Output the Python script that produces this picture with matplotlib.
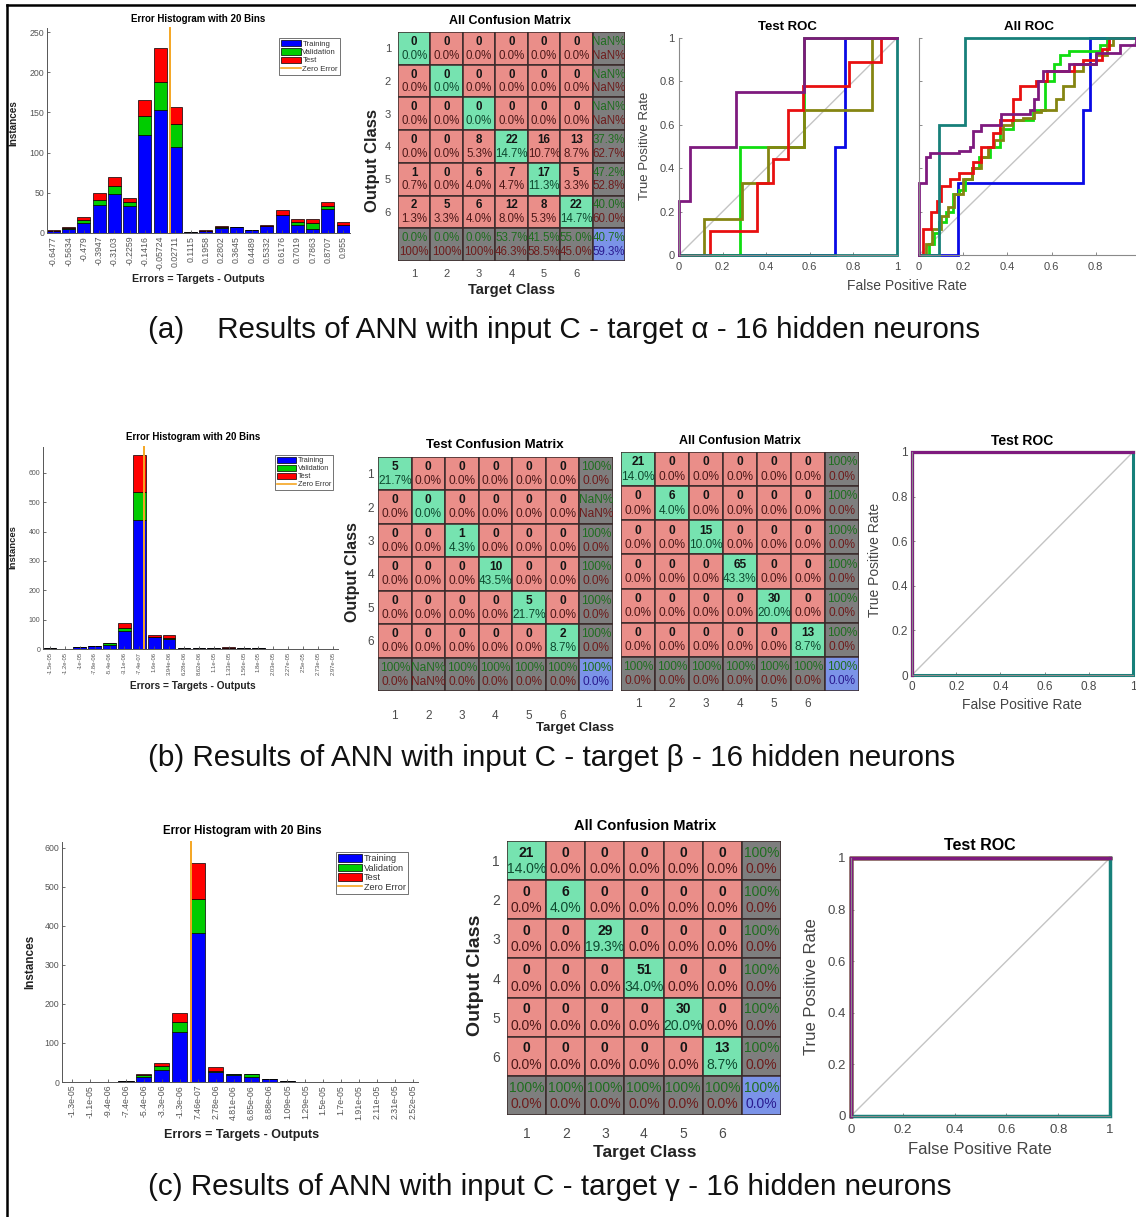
import numpy as np
import matplotlib
matplotlib.use("Agg")
import matplotlib.pyplot as plt
from matplotlib.patches import Rectangle, Patch
from matplotlib.lines import Line2D

plt.rcParams["font.family"] = ["Liberation Sans", "DejaVu Sans"]

W, H = 1136, 1217

# ---------------- data ----------------
# (a) error histogram
HIST_A_LABELS = ["-0.6477", "-0.5634", "-0.479", "-0.3947", "-0.3103", "-0.2259", "-0.1416",
                 "-0.05724", "0.02711", "0.1115", "0.1958", "0.2802", "0.3645", "0.4489",
                 "0.5332", "0.6176", "0.7019", "0.7863", "0.8707", "0.955"]
HIST_A_TRAIN = [3, 5, 12, 35, 49, 33, 122, 153, 107, 1, 3, 6, 8, 4, 9, 22, 10, 5, 30, 10]
HIST_A_VAL   = [0, 1, 4, 6, 9, 5, 24, 35, 28, 0, 0, 2, 0, 0, 0, 1, 4, 7, 4, 0]
HIST_A_TEST  = [1, 2, 4, 9, 12, 6, 19, 42, 22, 0, 1, 1, 0, 0, 1, 5, 3, 5, 5, 4]

# (b) error histogram
HIST_B_LABELS = ["-1.5e-05", "-1.2e-05", "-1e-05", "-7.8e-06", "-5.4e-06", "-3.1e-06", "-7.4e-07",
                 "1.6e-06", "3.94e-06", "6.28e-06", "8.62e-06", "1.1e-05", "1.33e-05", "1.56e-05",
                 "1.8e-05", "2.03e-05", "2.27e-05", "2.5e-05", "2.73e-05", "2.97e-05"]
HIST_B_TRAIN = [3, 1, 6, 9, 13, 60, 440, 41, 33, 4, 4, 3, 5, 4, 3, 0, 0, 0, 0, 0]
HIST_B_VAL   = [0, 0, 0, 1, 6, 12, 95, 1, 5, 0, 0, 1, 0, 0, 0, 0, 0, 0, 0, 0]
HIST_B_TEST  = [0, 0, 1, 0, 2, 17, 125, 4, 10, 0, 0, 0, 1, 0, 1, 0, 0, 0, 0, 0]

# (c) error histogram
HIST_C_LABELS = ["-1.3e-05", "-1.1e-05", "-9.4e-06", "-7.4e-06", "-5.4e-06", "-3.3e-06", "-1.3e-06",
                 "7.46e-07", "2.78e-06", "4.81e-06", "6.85e-06", "8.88e-06", "1.09e-05", "1.29e-05",
                 "1.5e-05", "1.7e-05", "1.91e-05", "2.11e-05", "2.31e-05", "2.52e-05"]
HIST_C_TRAIN = [0, 0, 0, 2, 12, 31, 128, 383, 26, 19, 13, 7, 3, 0, 0, 0, 0, 0, 0, 0]
HIST_C_VAL   = [0, 0, 0, 0, 5, 11, 25, 85, 1, 1, 7, 0, 0, 0, 0, 0, 0, 0, 0, 0]
HIST_C_TEST  = [0, 0, 0, 0, 4, 6, 23, 92, 11, 1, 1, 1, 0, 0, 0, 0, 0, 0, 0, 0]

# confusion matrices: rows = output class, cols = target class
CONF_A_ALL = [[0, 0, 0, 0, 0, 0],
              [0, 0, 0, 0, 0, 0],
              [0, 0, 0, 0, 0, 0],
              [0, 0, 8, 22, 16, 13],
              [1, 0, 6, 7, 17, 5],
              [2, 5, 6, 12, 8, 22]]
CONF_B_TEST_DIAG = [5, 0, 1, 10, 5, 2]
CONF_B_ALL_DIAG = [21, 6, 15, 65, 30, 13]
CONF_C_ALL_DIAG = [21, 6, 29, 51, 30, 13]

# ROC curves, class -> (fpr, tpr) step vertices
ROC_COLORS = {"blue": "#0a0ae6", "green": "#10dd10", "red": "#e81010",
              "teal": "#17807a", "purple": "#7e1a7e", "olive": "#858512"}
ROC_A_TEST = {
    "blue":   ([0, 0.716, 0.762, 1], [0, 0.5, 1, 1]),
    "green":  ([0, 0.28, 0.575, 1], [0, 0.5, 1, 1]),
    "olive":  ([0, 0.115, 0.29, 0.41, 0.575, 0.885, 1], [0, 0.167, 0.333, 0.5, 0.667, 1, 1]),
    "red":    ([0, 0.14, 0.356, 0.43, 0.5, 0.57, 0.78, 0.926, 1],
               [0, 0.111, 0.333, 0.444, 0.667, 0.778, 0.889, 1, 1]),
    "teal":   ([0, 1, 1], [0, 1, 1]),
    "purple": ([0, 0, 0.05, 0.26, 0.575, 1], [0, 0.25, 0.5, 0.75, 1, 1]),
}
ROC_A_ALL = {
    "teal":   ([0, 0.089, 0.207, 1], [0, 0.6, 1, 1]),
    "blue":   ([0, 0.177, 0.74, 0.773, 1], [0, 0.333, 0.667, 1, 1]),
    "olive":  ([0, 0.03, 0.06, 0.1, 0.13, 0.16, 0.2, 0.24, 0.28, 0.31, 0.34, 0.38, 0.42, 0.47,
                0.52, 0.55, 0.62, 0.65, 0.7, 0.74, 0.8, 0.85, 0.88, 1],
               [0, 0.05, 0.12, 0.18, 0.22, 0.28, 0.35, 0.4, 0.45, 0.5, 0.53, 0.6, 0.62, 0.63,
                0.66, 0.67, 0.72, 0.78, 0.85, 0.88, 0.92, 0.97, 1, 1]),
    "green":  ([0, 0.045, 0.07, 0.09, 0.12, 0.154, 0.18, 0.21, 0.24, 0.27, 0.32, 0.365, 0.425,
                0.516, 0.57, 0.61, 0.64, 0.68, 0.82, 0.85, 1],
               [0, 0.05, 0.1, 0.15, 0.2, 0.28, 0.3, 0.35, 0.4, 0.45, 0.5, 0.58, 0.62,
                0.67, 0.8, 0.88, 0.92, 0.94, 0.97, 1, 1]),
    "red":    ([0, 0.018, 0.056, 0.08, 0.1, 0.14, 0.18, 0.245, 0.28, 0.335, 0.365, 0.425, 0.455,
                0.53, 0.577, 0.7, 0.74, 0.83, 0.86, 1],
               [0, 0.12, 0.2, 0.25, 0.32, 0.35, 0.38, 0.43, 0.5, 0.56, 0.62, 0.72, 0.78,
                0.8, 0.85, 0.88, 0.9, 0.95, 1, 1]),
    "purple": ([0, 0, 0.03, 0.05, 0.18, 0.23, 0.245, 0.28, 0.37, 0.5, 0.52, 0.54, 0.56, 0.68,
                0.8, 0.91, 0.98, 1],
               [0, 0.33, 0.45, 0.47, 0.48, 0.5, 0.57, 0.6, 0.65, 0.67, 0.72, 0.8, 0.85, 0.88,
                0.93, 0.97, 1, 1]),
}
ROC_PERFECT = {
    "blue":   ([0, 0, 1], [0, 1, 1]),
    "green":  ([0, 0, 1], [0, 1, 1]),
    "red":    ([0, 0, 1], [0, 1, 1]),
    "olive":  ([0, 0, 1], [0, 1, 1]),
    "teal":   ([0, 1, 1], [0, 1, 1]),
    "purple": ([0, 0, 1], [0, 1, 1]),
}

CAPTIONS = ["(a)    Results of ANN with input C - target \u03b1 - 16 hidden neurons",
            "(b) Results of ANN with input C - target \u03b2 - 16 hidden neurons",
            "(c) Results of ANN with input C - target \u03b3 - 16 hidden neurons"]

# ---------------- styling ----------------
BAR_COLORS = ["#0000ff", "#00cc00", "#ff0000"]
ZERO_COLOR = "#f5a623"
TICK_GRAY = "#4a4a4a"
CELL_GREEN = "#76e3b0"
CELL_RED = "#ea8e89"
CELL_GRAY = "#7e7e7e"
CELL_BLUE = "#7b93e8"

fig = plt.figure(figsize=(W / 100, H / 100), dpi=100)


def rect(x0, y0, x1, y1):
    return [x0 / W, 1 - y1 / H, (x1 - x0) / W, (y1 - y0) / H]


def ftext(x, y, s, **kw):
    kw.setdefault("ha", "center")
    kw.setdefault("va", "center")
    fig.text(x / W, 1 - y / H, s, **kw)


def error_hist(box, labels, train, val, test, ymax, yticks, xlim, fs, leg_box, leg_fs,
               title_fs, title_xy, xlabel_xy, ylabel_xy, lab_fs, yfs=None):
    ax = fig.add_axes(rect(*box))
    pos = np.arange(len(labels))
    train, val, test = np.array(train), np.array(val), np.array(test)
    ax.bar(pos, train, 0.85, color=BAR_COLORS[0], edgecolor="k", lw=0.5)
    ax.bar(pos, val, 0.85, bottom=train, color=BAR_COLORS[1], edgecolor="k", lw=0.5)
    ax.bar(pos, test, 0.85, bottom=train + val, color=BAR_COLORS[2], edgecolor="k", lw=0.5)
    centers = np.array([float(s) for s in labels])
    zero = np.interp(0, centers, pos)
    ax.plot([zero, zero], [0, ymax], color=ZERO_COLOR, lw=1.4, clip_on=False)
    ax.set_xlim(*xlim)
    ax.set_ylim(0, ymax)
    ax.set_xticks(pos)
    ax.set_xticklabels(labels, rotation=90, fontsize=fs, color=TICK_GRAY)
    ax.set_yticks(yticks)
    ax.tick_params(axis="y", labelsize=yfs or fs, labelcolor=TICK_GRAY)
    ax.tick_params(direction="in", length=2, width=0.6, pad=2, colors="#555555")
    for s in ("top", "right"):
        ax.spines[s].set_visible(False)
    for s in ("left", "bottom"):
        ax.spines[s].set_color("#555555")
        ax.spines[s].set_linewidth(0.7)
    handles = [Patch(facecolor=c, edgecolor="k", lw=0.5) for c in BAR_COLORS]
    handles.append(Line2D([], [], color=ZERO_COLOR, lw=1.2))
    lx0, ly0, lx1, ly1 = leg_box
    anchor = ((lx1 - box[0]) / (box[2] - box[0]), 1 - (ly0 - box[1]) / (box[3] - box[1]))
    leg = ax.legend(handles, ["Training", "Validation", "Test", "Zero Error"],
                    loc="upper right", bbox_to_anchor=anchor, borderaxespad=0,
                    fontsize=leg_fs, frameon=True, fancybox=False, handlelength=2.6,
                    handleheight=0.9, handletextpad=0.2, labelspacing=0.05,
                    borderpad=0.25, edgecolor="#333333")
    leg.get_frame().set_linewidth(0.6)
    for t in leg.get_texts():
        t.set_color("#333333")
    ftext(*title_xy, "Error Histogram with 20 Bins", fontsize=title_fs, fontweight="bold")
    ftext(*xlabel_xy, "Errors = Targets - Outputs", fontsize=lab_fs + 0.5, fontweight="bold",
          color="#222222")
    ftext(*ylabel_xy, "Instances", fontsize=lab_fs, fontweight="bold", rotation=90,
          color="#222222")
    return ax


def pct(v):
    if np.isnan(v):
        return "NaN%"
    if abs(v - 100) < 1e-9:
        return "100%"
    return f"{v:.1f}%"


def confusion(box, counts, title, title_xy, title_fs, cell_fs, tick_fs,
              ytick=True, xpad=5, ypad=4):
    ax = fig.add_axes(rect(*box))
    m = np.array(counts, float)
    n = m.shape[0]
    total = m.sum()
    with np.errstate(invalid="ignore", divide="ignore"):
        row_ok = 100 * np.diag(m) / m.sum(axis=1)
        col_ok = 100 * np.diag(m) / m.sum(axis=0)
    acc = 100 * np.trace(m) / total
    kw = dict(ha="center", va="center", fontsize=cell_fs, clip_on=True)
    for r in range(n + 1):
        for c in range(n + 1):
            if r < n and c < n:
                fc = CELL_GREEN if r == c else CELL_RED
            elif r == n and c == n:
                fc = CELL_BLUE
            else:
                fc = CELL_GRAY
            ax.add_patch(Rectangle((c, r), 1, 1, facecolor=fc, edgecolor="#3a2a2a", lw=1.1))
            if r < n and c < n:
                ax.text(c + 0.5, r + 0.3, f"{int(m[r, c])}", fontweight="bold",
                        color="#151515", **kw)
                ax.text(c + 0.5, r + 0.72, pct(100 * m[r, c] / total),
                        color="#0f4a30" if r == c else "#4d1818", **kw)
            else:
                if r == n and c == n:
                    top, bottom, bcol = acc, 100 - acc, "#2a1a90"
                elif c == n:
                    top, bottom, bcol = row_ok[r], 100 - row_ok[r], "#6e1c1c"
                else:
                    top, bottom, bcol = col_ok[c], 100 - col_ok[c], "#6e1c1c"
                ax.text(c + 0.5, r + 0.3, pct(top), color="#1f6e1f", **kw)
                ax.text(c + 0.5, r + 0.72, pct(bottom), color=bcol, **kw)
    ax.set_xlim(0, n + 1)
    ax.set_ylim(n + 1, 0)
    ax.set_xticks(np.arange(n) + 0.5)
    ax.set_xticklabels([str(i + 1) for i in range(n)])
    ax.set_yticks(np.arange(n) + 0.5)
    ax.set_yticklabels([str(i + 1) for i in range(n)] if ytick else [])
    ax.tick_params(axis="x", length=0, labelsize=tick_fs, labelcolor=TICK_GRAY, pad=xpad)
    ax.tick_params(axis="y", length=0, labelsize=tick_fs, labelcolor=TICK_GRAY, pad=ypad)
    for s in ax.spines.values():
        s.set_visible(False)
    ftext(*title_xy, title, fontsize=title_fs, fontweight="bold")
    return ax


def roc(box, curves, order, title, title_xy, title_fs, tick_fs, lw, yticklabels=True,
        xpad=4, ypad=3, xmax_label=True):
    ax = fig.add_axes(rect(*box))
    ax.plot([0, 1], [0, 1], color="#c4c4c4", lw=1.0)
    for name in order:
        xs, ys = curves[name]
        ax.plot(xs, ys, drawstyle="steps-post", color=ROC_COLORS[name], lw=lw,
                clip_on=False, solid_joinstyle="miter")
    ax.set_xlim(0, 1)
    ax.set_ylim(0, 1)
    ticks = [0, 0.2, 0.4, 0.6, 0.8, 1]
    tl = ["0", "0.2", "0.4", "0.6", "0.8", "1"]
    ax.set_xticks(ticks)
    ax.set_xticklabels(tl if xmax_label else tl[:-1] + [""])
    ax.set_yticks(ticks)
    ax.set_yticklabels(tl if yticklabels else [])
    ax.tick_params(direction="in", length=2.5, width=0.6, colors="#777777",
                   labelsize=tick_fs, labelcolor=TICK_GRAY)
    ax.tick_params(axis="x", pad=xpad)
    ax.tick_params(axis="y", pad=ypad)
    for s in ("top", "right"):
        ax.spines[s].set_visible(False)
    for s in ("left", "bottom"):
        ax.spines[s].set_color("#8a8a8a")
        ax.spines[s].set_linewidth(0.8)
    ftext(*title_xy, title, fontsize=title_fs, fontweight="bold")
    return ax


ORDER_A = ["blue", "green", "olive", "red", "teal", "purple"]
ORDER_P = ["blue", "green", "red", "olive", "teal", "purple"]

# ---------------- row (a) ----------------
error_hist((47, 28, 350, 233), HIST_A_LABELS, HIST_A_TRAIN, HIST_A_VAL, HIST_A_TEST,
           255, [0, 50, 100, 150, 200, 250], (-0.42, 19.45), 6.3,
           (273, 38, 340, 82), 5.6, 7, (198, 19), (198, 279), (13, 123), 7.2)
confusion((398, 32, 625, 261), CONF_A_ALL, "All Confusion Matrix", (510, 21), 9, 8.3, 8,
          xpad=6, ypad=5)
ftext(372, 160, "Output Class", fontsize=12, fontweight="bold", rotation=90, color="#222222")
ftext(512, 290, "Target Class", fontsize=10.5, fontweight="bold", color="#222222")

roc((679, 38, 897, 255), ROC_A_TEST, ORDER_A, "Test ROC", (787, 27), 9.5, 8, 2.0, xpad=5)
roc((919, 38, 1140, 255), ROC_A_ALL, ORDER_A, "All ROC", (1029, 27), 9.5, 8, 2.0,
    yticklabels=False, xpad=5, xmax_label=False)
ftext(645, 146, "True Positive Rate", fontsize=9.5, rotation=90, color="#444444")
ftext(907, 286, "False Positive Rate", fontsize=10, color="#444444")

# ---------------- row (b) ----------------
error_hist((43, 447, 338, 649), HIST_B_LABELS, HIST_B_TRAIN, HIST_B_VAL, HIST_B_TEST,
           688, [0, 100, 200, 300, 400, 500, 600], (-0.47, 19.34), 4.2,
           (268, 455, 333, 498), 5.3, 7, (193, 437), (193, 686), (13, 547), 6.8, yfs=5.0)
confusion((378, 457, 613, 691), np.diag(CONF_B_TEST_DIAG), "Test Confusion Matrix",
          (495, 445), 9.5, 8.6, 8.5, xpad=14, ypad=3)
confusion((621, 452, 859, 691), np.diag(CONF_B_ALL_DIAG), "All Confusion Matrix",
          (740, 441), 9, 8.6, 8.5, ytick=False, xpad=5)
ftext(352, 572, "Output Class", fontsize=11.5, fontweight="bold", rotation=90, color="#222222")
ftext(575, 728, "Target Class", fontsize=9.5, fontweight="bold", color="#222222")

roc((912, 452, 1133, 675), ROC_PERFECT, ORDER_P, "Test ROC", (1022, 441), 10, 8.5, 2.2)
ftext(875, 560, "True Positive Rate", fontsize=10, rotation=90, color="#444444")
ftext(1022, 705, "False Positive Rate", fontsize=10, color="#444444")

# ---------------- row (c) ----------------
error_hist((62, 842, 418, 1082), HIST_C_LABELS, HIST_C_TRAIN, HIST_C_VAL, HIST_C_TEST,
           615, [0, 100, 200, 300, 400, 500, 600], (-0.56, 19.28), 6.3,
           (330, 852, 408, 906), 6.6, 8.3, (242, 831), (242, 1135), (30, 962), 8.5)
confusion((507, 841, 781, 1115), np.diag(CONF_C_ALL_DIAG), "All Confusion Matrix",
          (645, 826), 10.5, 10, 10, xpad=9, ypad=5)
ftext(475, 975, "Output Class", fontsize=14, fontweight="bold", rotation=90, color="#222222")
ftext(645, 1152, "Target Class", fontsize=12.5, fontweight="bold", color="#222222")

roc((851, 858, 1110, 1116), ROC_PERFECT, ORDER_P, "Test ROC", (980, 846), 11.5, 9.5, 2.5,
    xpad=6, ypad=4)
ftext(812, 987, "True Positive Rate", fontsize=12, rotation=90, color="#444444")
ftext(980, 1150, "False Positive Rate", fontsize=12, color="#444444")

# ---------------- captions and frame ----------------
for y, cap in zip([330, 758, 1187], CAPTIONS):
    ftext(148, y, cap, fontsize=21.3, ha="left", color="#111111")

fig.add_artist(Line2D([7 / W, 7 / W], [0, 1 - 5 / H], color="k", lw=1.8))
fig.add_artist(Line2D([7 / W, 1], [1 - 5 / H, 1 - 5 / H], color="k", lw=1.8))

fig.savefig("out.png", dpi=100)
